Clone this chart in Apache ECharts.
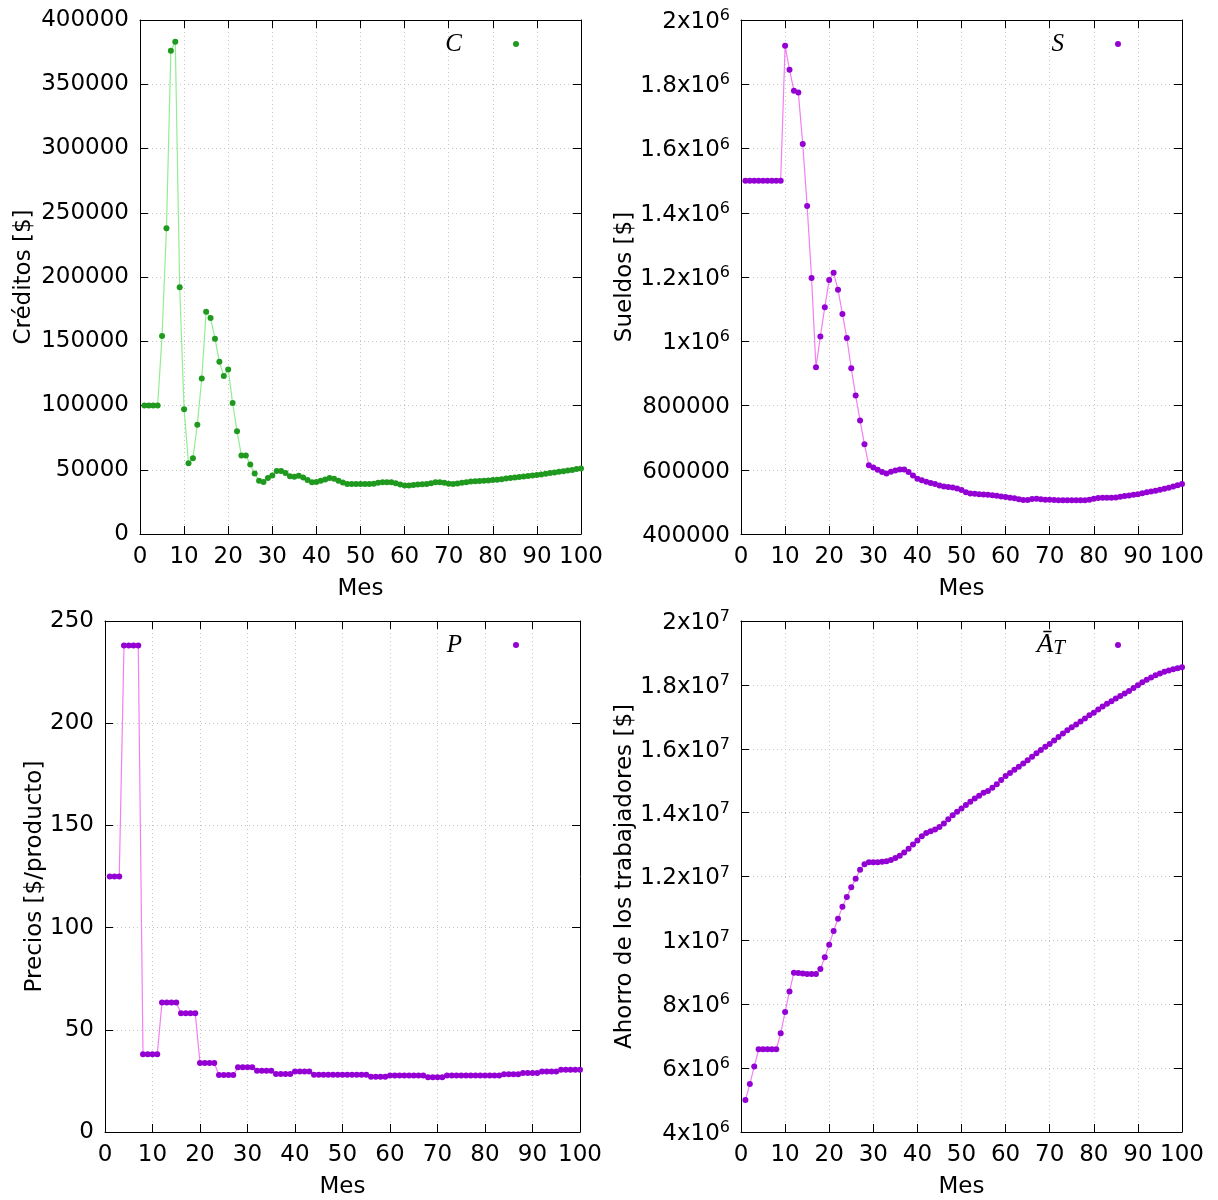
<!DOCTYPE html>
<html>
<head>
<meta charset="utf-8">
<script src="https://cdn.jsdelivr.net/npm/echarts@6/dist/echarts.min.js"></script>
<style>
  html, body { margin: 0; padding: 0; background: #fff; }
  #chart { width: 1218px; height: 1200px; }
</style>
</head>
<body>
<div id="chart"></div>
<script>
// Months of the simulation
const months = [1,2,3,4,5,6,7,8,9,10,11,12,13,14,15,16,17,18,19,20,
  21,22,23,24,25,26,27,28,29,30,31,32,33,34,35,36,37,38,39,40,
  41,42,43,44,45,46,47,48,49,50,51,52,53,54,55,56,57,58,59,60,
  61,62,63,64,65,66,67,68,69,70,71,72,73,74,75,76,77,78,79,80,
  81,82,83,84,85,86,87,88,89,90,91,92,93,94,95,96,97,98,99,100];

// Créditos C [$]
const creditos = [100000,100000,100000,100000,154000,238000,376000,383000,192000,97000,
  55000,59000,85000,121000,173000,168000,152000,134000,123000,128000,
  102000,80000,61000,61000,54000,47000,41500,40500,43500,45500,
  49000,49000,47500,45000,44500,45300,44000,42000,40300,40500,
  41500,42500,43500,43000,41500,40000,39000,39000,39000,39000,
  39000,39000,39200,39800,40300,40300,40200,39500,38500,37800,
  37800,38200,38500,38800,39000,39500,40200,40200,39800,39200,
  39000,39300,39800,40300,40800,41000,41200,41400,41700,42000,
  42300,42700,43100,43600,44000,44400,44800,45200,45600,46000,
  46400,46900,47400,47900,48400,48900,49400,49900,50500,51000];

// Sueldos S [$]
const sueldos = [1500000,1500000,1500000,1500000,1500000,1500000,1500000,1500000,1500000,1920000,
  1845000,1780000,1774000,1614000,1421000,1197000,919000,1015000,1106000,1191000,
  1213000,1160000,1085000,1010000,916000,831000,753000,679000,614000,607000,
  600000,593000,588000,594000,598000,601000,601000,593000,582000,572000,
  567000,563000,559000,556000,551000,548000,546000,545000,542000,537000,
  530000,526000,525000,524000,523000,522000,521000,519000,517000,515000,
  513000,511000,508000,506000,506000,509000,510000,508000,507000,507000,
  506000,505000,505000,505000,505000,505000,505000,505000,507000,510000,
  512000,513000,513000,513000,514000,516000,518000,520000,522000,524000,
  527000,530000,532000,535000,538000,541000,544000,548000,552000,556000];

// Precios P [$/producto]
const precios = [125,125,125,238,238,238,238,38,38,38,
  38,63.4,63.4,63.4,63.4,58.1,58.1,58.1,58.1,33.8,
  33.8,33.8,33.8,27.9,27.9,27.9,27.9,31.7,31.7,31.7,
  31.7,30.0,30.0,30.0,30.0,28.4,28.4,28.4,28.4,29.6,
  29.6,29.6,29.6,28.0,28.0,28.0,28.0,28.0,28.0,28.0,
  28.0,28.0,28.0,28.0,28.0,27.0,27.0,27.0,27.0,27.6,
  27.6,27.6,27.6,27.6,27.6,27.6,27.6,26.8,26.8,26.8,
  26.8,27.6,27.6,27.6,27.6,27.6,27.6,27.6,27.6,27.6,
  27.6,27.6,27.6,28.3,28.3,28.3,28.3,28.9,28.9,28.9,
  28.9,29.6,29.6,29.6,29.6,30.4,30.4,30.4,30.4,30.5];

// Ahorro de los trabajadores Ā_T [$]
const ahorro = [5.0e6,5.5e6,6.05e6,6.59e6,6.59e6,6.59e6,6.59e6,6.59e6,7.09e6,7.76e6,
  8.40e6,8.99e6,8.98e6,8.96e6,8.95e6,8.95e6,8.95e6,9.10e6,9.47e6,9.86e6,
  10.29e6,10.68e6,11.05e6,11.36e6,11.66e6,11.93e6,12.21e6,12.38e6,12.45e6,12.45e6,
  12.45e6,12.46e6,12.48e6,12.52e6,12.58e6,12.65e6,12.75e6,12.87e6,13.0e6,13.13e6,
  13.26e6,13.36e6,13.42e6,13.47e6,13.55e6,13.66e6,13.79e6,13.92e6,14.03e6,14.13e6,
  14.24e6,14.34e6,14.44e6,14.53e6,14.62e6,14.68e6,14.78e6,14.89e6,15.02e6,15.15e6,
  15.24e6,15.34e6,15.44e6,15.54e6,15.64e6,15.75e6,15.86e6,15.96e6,16.06e6,16.15e6,
  16.26e6,16.37e6,16.48e6,16.58e6,16.67e6,16.76e6,16.85e6,16.95e6,17.05e6,17.13e6,
  17.23e6,17.32e6,17.41e6,17.49e6,17.57e6,17.65e6,17.73e6,17.81e6,17.90e6,17.99e6,
  18.08e6,18.16e6,18.23e6,18.30e6,18.36e6,18.41e6,18.45e6,18.49e6,18.52e6,18.55e6];

const SANS = 'DejaVu Sans';
const SERIF = 'Liberation Serif';
const GREEN_PT = '#1f9a1f', GREEN_LN = '#90ee90';
const VIOLET_PT = '#9400d3', VIOLET_LN = '#f47ef4';

const grids = [
  { left: 140, top: 20, width: 441, height: 514 },
  { left: 741, top: 20, width: 441, height: 514 },
  { left: 105, top: 621, width: 475, height: 516 },
  { left: 741, top: 621, width: 441, height: 516 }
];

// Plain integers below one million, "1.2x10^6" style above
function plainLabel(v) { return String(v); }
function sciLabel(v) {
  if (v < 1e6) return String(v);
  const e = Math.floor(Math.log10(v) + 1e-9);
  const m = +(v / Math.pow(10, e)).toFixed(2);
  return '{b|' + m + 'x10}{s|' + e + '}';
}
const sciRich = {
  b: { fontSize: 23, lineHeight: 28, fontFamily: SANS, color: '#000' },
  s: { fontSize: 16, lineHeight: 14, verticalAlign: 'top', fontFamily: SANS, color: '#000' }
};

const gridLine = { show: true, lineStyle: { color: '#c4c4c4', width: 1, type: [1, 3] } };
const blackLine = { lineStyle: { color: '#000', width: 1 } };

const xAxes = [], yAxes = [];
const yDefs = [
  { min: 0, max: 400000, interval: 50000, name: 'Créditos [$]', gap: 104, sci: false },
  { min: 400000, max: 2000000, interval: 200000, name: 'Sueldos [$]', gap: 104, sci: true },
  { min: 0, max: 250, interval: 50, name: 'Precios [$/producto]', gap: 58, sci: false },
  { min: 4000000, max: 20000000, interval: 2000000, name: 'Ahorro de los trabajadores [$]', gap: 104, sci: true }
];

grids.forEach((g, i) => {
  xAxes.push({
    gridIndex: i, type: 'value', min: 0, max: 100, interval: 10, position: 'bottom',
    axisLine: Object.assign({ onZero: false }, blackLine),
    axisTick: Object.assign({ inside: true, length: 8 }, blackLine),
    axisLabel: { color: '#000', fontSize: 23, fontFamily: SANS, margin: 12, formatter: plainLabel },
    splitLine: gridLine,
    name: 'Mes', nameLocation: 'middle', nameGap: 44,
    nameTextStyle: { color: '#000', fontSize: 23, fontFamily: SANS }
  });
  xAxes.push({
    gridIndex: i, type: 'value', min: 0, max: 100, interval: 10, position: 'top',
    axisLine: Object.assign({ onZero: false }, blackLine),
    axisTick: Object.assign({ inside: true, length: 8 }, blackLine),
    axisLabel: { show: false }, splitLine: { show: false }
  });
  const d = yDefs[i];
  yAxes.push({
    gridIndex: i, type: 'value', min: d.min, max: d.max, interval: d.interval, position: 'left',
    axisLine: Object.assign({ show: true, onZero: false }, blackLine),
    axisTick: Object.assign({ show: true, inside: true, length: 8 }, blackLine),
    axisLabel: d.sci
      ? { color: '#000', fontSize: 23, fontFamily: SANS, margin: 11, padding: [4, 0, 0, 0], formatter: sciLabel, rich: sciRich }
      : { color: '#000', fontSize: 23, fontFamily: SANS, margin: 11, padding: [4, 0, 0, 0], formatter: plainLabel },
    splitLine: gridLine,
    name: d.name, nameLocation: 'middle', nameGap: d.gap,
    nameTextStyle: { color: '#000', fontSize: 23, fontFamily: SANS }
  });
  yAxes.push({
    gridIndex: i, type: 'value', min: d.min, max: d.max, interval: d.interval, position: 'right',
    axisLine: Object.assign({ show: true, onZero: false }, blackLine),
    axisTick: Object.assign({ show: true, inside: true, length: 8 }, blackLine),
    axisLabel: { show: false }, splitLine: { show: false }
  });
});

function pairs(vals) { return months.map((m, k) => [m, vals[k]]); }

function lineSeries(name, idx, vals, pt, ln) {
  return {
    type: 'line', name: name, xAxisIndex: idx * 2, yAxisIndex: idx * 2,
    data: pairs(vals), symbol: 'circle', symbolSize: 6, showAllSymbol: true,
    lineStyle: { color: ln, width: 1.2 }, itemStyle: { color: pt },
    emphasis: { disabled: true }, z: 3
  };
}

const legendText = { color: '#000', fontFamily: SERIF, fontStyle: 'italic', fontSize: 25, lineHeight: 28,
  rich: {
    n: { fontFamily: SERIF, fontStyle: 'italic', fontSize: 25, lineHeight: 28, padding: [0, 46, 0, 0] },
    a: { fontFamily: SERIF, fontStyle: 'italic', fontSize: 27, lineHeight: 28 },
    t: { fontFamily: SERIF, fontStyle: 'italic', fontSize: 21, lineHeight: 17, verticalAlign: 'bottom', padding: [0, 45, 0, 0] }
  } };

function legendAt(name, right, top) {
  return {
    data: [{ name: name, icon: 'circle' }], right: right, top: top, padding: 0,
    itemWidth: 6, itemHeight: 6, align: 'right', selectedMode: false,
    textStyle: legendText,
    formatter: n => n === 'A_T' ? '{a|Ā}{t|T}' : '{n|' + n + '}'
  };
}

const option = {
  backgroundColor: '#fff',
  animation: false,
  grid: grids,
  xAxis: xAxes,
  yAxis: yAxes,
  legend: [
    legendAt('C', 699, 30),
    legendAt('S', 97, 30),
    legendAt('P', 699, 631),
    legendAt('A_T', 97, 631)
  ],
  series: [
    lineSeries('C', 0, creditos, GREEN_PT, GREEN_LN),
    lineSeries('S', 1, sueldos, VIOLET_PT, VIOLET_LN),
    lineSeries('P', 2, precios, VIOLET_PT, VIOLET_LN),
    lineSeries('A_T', 3, ahorro, VIOLET_PT, VIOLET_LN)
  ]
};

const chart = echarts.init(document.getElementById('chart'), null, { renderer: 'canvas' });
chart.setOption(option);
</script>
</body>
</html>
